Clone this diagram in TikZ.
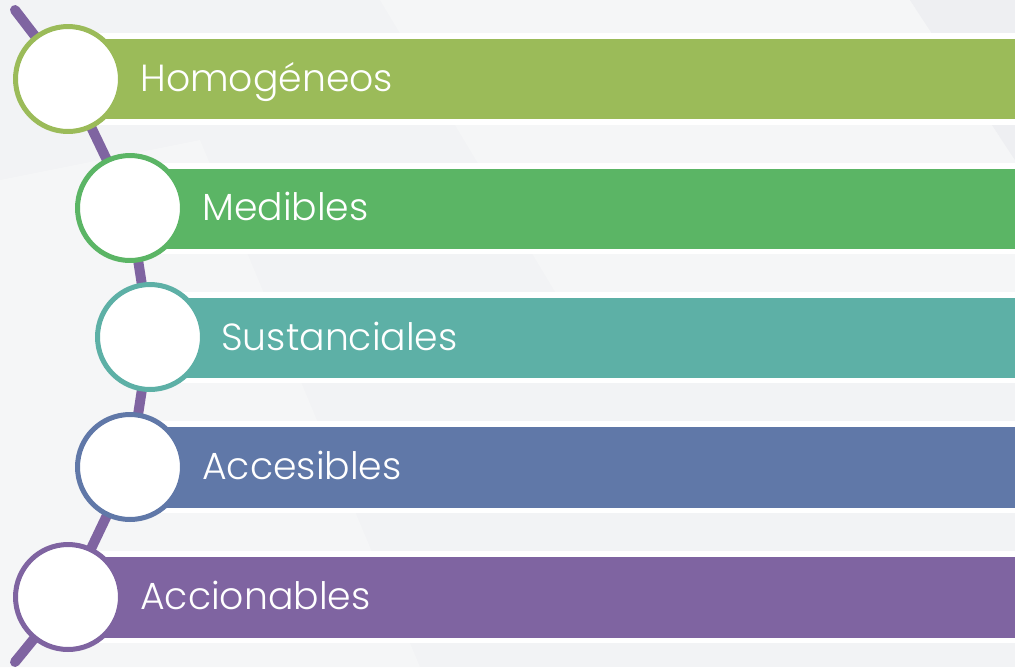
\documentclass[tikz,border=0pt]{standalone}
\usepackage{fontspec}
\setmainfont{Poppins}[UprightFont=* Light]
\usepackage{tikz}
\usetikzlibrary{positioning,calc}

\definecolor{verdeoliva}{HTML}{9BBB59}
\definecolor{verde}{HTML}{5BB565}
\definecolor{turquesa}{HTML}{5DB0A6}
\definecolor{azul}{HTML}{6078A8}
\definecolor{morado}{HTML}{7F64A1}
\definecolor{fondo}{HTML}{F2F3F5}
\definecolor{fondoclaro}{HTML}{F5F6F7}
\definecolor{fondooscuro}{HTML}{EEEFF2}

\begin{document}
\begin{tikzpicture}[x=0.02cm, y=-0.02cm,
    anillo/.style={circle, draw=#1, fill=white, line width=0.1cm, minimum size=2.1cm, inner sep=0pt},
    etiqueta/.style={anchor=base west, text=white, font=\fontsize{21.5}{25}\selectfont, inner sep=0pt},
    linea/.style={draw=morado, line width=0.2cm, line cap=round}]

    % fondo
    \fill[fondo] (0,0) rectangle (1015,667);
    \useasboundingbox (0,0) rectangle (1015,667);
    \fill[fondoclaro] (380,0) -- (910,0) -- (1015,160) -- (1015,300) -- (560,300) -- cycle;
    \fill[fondooscuro] (910,0) -- (1015,0) -- (1015,160) -- cycle;
    \fill[fondoclaro] (0,180) -- (200,140) -- (420,667) -- (0,667) -- cycle;

    % centros
    \coordinate (inicio) at (15,10);
    \coordinate (c1) at (68,79);
    \coordinate (c2) at (130,208);
    \coordinate (c3) at (150,337);
    \coordinate (c4) at (130,467);
    \coordinate (c5) at (68,597);
    \coordinate (fin) at (15,662);

    \draw[linea] (inicio) -- (c1) -- (c2) -- (c3) -- (c4) -- (c5) -- (fin);

    % barras
    \fill[white] (68,33) rectangle (1030,125);
    \fill[verdeoliva] (68,38.5) rectangle (1030,119);
    \fill[white] (130,163) rectangle (1030,254);
    \fill[verde] (130,168.5) rectangle (1030,248.5);
    \fill[white] (150,292) rectangle (1030,383);
    \fill[turquesa] (150,297.5) rectangle (1030,377.5);
    \fill[white] (130,421) rectangle (1030,513);
    \fill[azul] (130,427) rectangle (1030,507.5);
    \fill[white] (68,551) rectangle (1030,643);
    \fill[morado] (68,557) rectangle (1030,637.5);

    % circulos
    \node[anillo=verdeoliva] (homo) at (c1) {};
    \node[anillo=verde] (medi) at (c2) {};
    \node[anillo=turquesa] (sust) at (c3) {};
    \node[anillo=azul] (acce) at (c4) {};
    \node[anillo=morado] (acci) at (c5) {};

    % textos
    \node[etiqueta] (thomo) at (140,91) {Homogéneos};
    \node[etiqueta] (tmedi) at (202,220) {Medibles};
    \node[etiqueta] (tsust) at (221,350) {Sustanciales};
    \node[etiqueta] (tacce) at (202,479) {Accesibles};
    \node[etiqueta] (tacci) at (140,609) {Accionables};
\end{tikzpicture}
\end{document}
